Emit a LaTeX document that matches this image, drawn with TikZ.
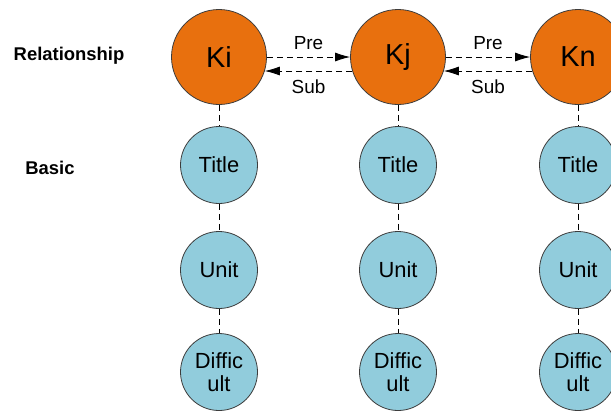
\documentclass[tikz,border=0pt]{standalone}
\usepackage{fontspec}
\setmainfont{Liberation Sans}
\usetikzlibrary{arrows.meta}
\definecolor{knodefill}{RGB}{232,112,14}
\definecolor{basicfill}{RGB}{145,204,220}
\definecolor{edgegray}{RGB}{60,60,60}
\tikzset{
  knode/.style={
    circle,
    draw=edgegray,
    fill=knodefill,
    line width=0.8pt,
    minimum size=95bp,
    inner sep=0pt,
    font=\fontsize{29}{31}\selectfont
  },
  basicnode/.style={
    circle,
    draw=edgegray,
    fill=basicfill,
    line width=0.8pt,
    minimum size=77bp,
    inner sep=0pt,
    align=center,
    font=\fontsize{22}{23}\selectfont
  },
  relarrow/.style={
    draw=black,
    line width=0.8pt,
    dash pattern=on 6bp off 4bp,
    -{Latex[length=15bp,width=9bp]}
  },
  basicline/.style={
    draw=black,
    line width=0.8pt,
    dash pattern=on 6bp off 4bp
  },
  rellabel/.style={
    font=\fontsize{19}{20}\selectfont
  },
  levellabel/.style={
    font=\bfseries\fontsize{18.5}{20}\selectfont
  }
}

\begin{document}
\begin{tikzpicture}[x=1bp,y=-1bp]

  % Page frame in pixel units, the right column and bottom row are cut off.
  \useasboundingbox (0,0) rectangle (611,412);
  \clip (0,0) rectangle (611,412);

  % Level labels on the left.
  \node[levellabel] (relname) at (69,56) {Relationship};
  \node[levellabel] (basname) at (50,168) {Basic};

  % Knowledge nodes on the relationship level.
  \node[knode] (Ki) at (219,57) {Ki};
  \node[knode] (Kj) at (398,57) {Kj};
  \node[knode] (Kn) at (578,57) {Kn};

  % Basic attribute nodes below each knowledge node.
  \node[basicnode] (TitleI) at (219,165) {Title};
  \node[basicnode] (UnitI)  at (219,270) {Unit};
  \node[basicnode] (DiffI)  at (219,372) {Diffic\\ult};

  \node[basicnode] (TitleJ) at (398,165) {Title};
  \node[basicnode] (UnitJ)  at (398,270) {Unit};
  \node[basicnode] (DiffJ)  at (398,372) {Diffic\\ult};

  \node[basicnode] (TitleN) at (578,165) {Title};
  \node[basicnode] (UnitN)  at (578,270) {Unit};
  \node[basicnode] (DiffN)  at (578,372) {Diffic\\ult};

  % Predecessor and successor links.
  \draw[relarrow] (Ki.east) -- node[rellabel,above=4bp] {Pre} (Kj.west);
  \draw[relarrow] (Kj.197) -- node[rellabel,below=5bp] {Sub} (Ki.-17);
  \draw[relarrow] (Kj.east) -- node[rellabel,above=4bp] {Pre} (Kn.west);
  \draw[relarrow] (Kn.197) -- node[rellabel,below=5bp] {Sub} (Kj.-17);

  % Dashed ties between the levels.
  \draw[basicline] (Ki.south) -- (TitleI.north);
  \draw[basicline] (TitleI.south) -- (UnitI.north);
  \draw[basicline] (UnitI.south) -- (DiffI.north);

  \draw[basicline] (Kj.south) -- (TitleJ.north);
  \draw[basicline] (TitleJ.south) -- (UnitJ.north);
  \draw[basicline] (UnitJ.south) -- (DiffJ.north);

  \draw[basicline] (Kn.south) -- (TitleN.north);
  \draw[basicline] (TitleN.south) -- (UnitN.north);
  \draw[basicline] (UnitN.south) -- (DiffN.north);

\end{tikzpicture}
\end{document}
